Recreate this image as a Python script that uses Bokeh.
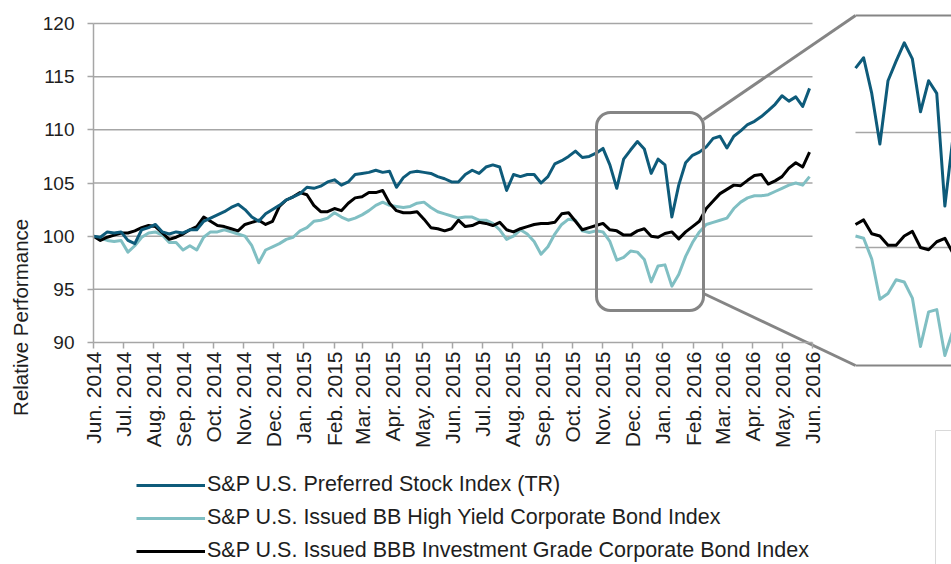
import numpy as np
import pandas as pd
from math import pi
from bokeh.plotting import figure
from bokeh.models import (Range1d, FixedTicker, LinearAxis, Legend, LegendItem,
                          BoxAnnotation, ColumnDataSource, Label)
from bokeh.embed import file_html
from bokeh.resources import INLINE

# ---------------- data (weekly readings, start 2014-06-01) ----------------
start_date = "2014-06-01"
series_names = ["S&P U.S. Preferred Stock Index (TR)",
                "S&P U.S. Issued BB High Yield Corporate Bond Index",
                "S&P U.S. Issued BBB Investment Grade Corporate Bond Index"]

preferred = [100.0, 99.9, 100.4, 100.3, 100.4, 99.6, 99.3, 100.6, 100.8, 101.1,
             100.4, 100.2, 100.4, 100.3, 100.6, 100.6, 101.4, 101.7, 102.0, 102.3,
             102.7, 103.0, 102.5, 101.8, 101.4, 102.1, 102.5, 102.9, 103.4, 103.7,
             104.0, 104.6, 104.5, 104.7, 105.1, 105.3, 104.8, 105.1, 105.8, 105.9,
             106.0, 106.2, 106.0, 106.1, 104.6, 105.5, 106.0, 106.1, 106.0, 105.9,
             105.6, 105.4, 105.1, 105.1, 105.8, 106.2, 105.9, 106.5, 106.7, 106.5,
             104.3, 105.8, 105.6, 105.8, 105.8, 105.0, 105.6, 106.8, 107.1, 107.5,
             108.0, 107.4, 107.5, 107.8, 108.25, 106.7, 104.5, 107.25, 108.1, 108.9,
             108.2, 105.9, 107.25, 106.7, 101.8, 104.8, 106.9, 107.6, 107.9, 108.4,
             109.2, 109.4, 108.3, 109.4, 109.9, 110.5, 110.8, 111.25, 111.8, 112.4,
             113.2, 112.7, 113.1, 112.2, 113.9]

bb_high_yield = [100.0, 99.8, 99.6, 99.5, 99.6, 98.5, 99.1, 99.9, 100.3, 100.4,
                 100.1, 99.4, 99.4, 98.7, 99.1, 98.7, 99.9, 100.4, 100.4, 100.6,
                 100.4, 100.2, 100.0, 99.1, 97.5, 98.7, 99.0, 99.3, 99.7, 99.9,
                 100.5, 100.8, 101.4, 101.5, 101.7, 102.2, 101.8, 101.5, 101.7, 102.0,
                 102.4, 102.9, 103.2, 102.9, 102.8, 102.7, 102.8, 103.1, 103.2, 102.7,
                 102.3, 102.1, 101.9, 101.7, 101.8, 101.8, 101.5, 101.5, 101.2, 100.6,
                 99.7, 100.0, 100.6, 100.2, 99.5, 98.3, 99.0, 100.2, 101.1, 101.6,
                 101.5, 100.5, 100.35, 100.5, 100.4, 99.5, 97.75, 98.0, 98.6, 98.5,
                 97.8, 95.7, 97.2, 97.3, 95.3, 96.4, 98.1, 99.4, 100.4, 101.1,
                 101.3, 101.5, 101.7, 102.6, 103.2, 103.6, 103.8, 103.8, 103.9, 104.2,
                 104.5, 104.8, 105.0, 104.8, 105.6]

bbb_investment = [100.0, 99.6, 99.9, 100.1, 100.3, 100.3, 100.5, 100.8, 101.0, 100.9,
                  100.3, 99.7, 99.9, 100.2, 100.6, 100.9, 101.8, 101.4, 101.0, 100.9,
                  100.7, 100.5, 101.1, 101.3, 101.5, 101.1, 101.4, 102.8, 103.4, 103.7,
                  104.1, 103.9, 102.9, 102.3, 102.3, 102.6, 102.4, 103.1, 103.6, 103.7,
                  104.1, 104.1, 104.3, 103.1, 102.4, 102.2, 102.2, 102.3, 101.6, 100.8,
                  100.7, 100.5, 100.7, 101.5, 100.9, 101.0, 101.3, 101.2, 101.0, 101.3,
                  100.6, 100.4, 100.7, 100.9, 101.1, 101.2, 101.2, 101.3, 102.1, 102.2,
                  101.4, 100.6, 100.8, 101.0, 101.2, 100.6, 100.5, 100.1, 100.1, 100.5,
                  100.7, 100.0, 99.9, 100.25, 100.4, 99.75, 100.4, 100.9, 101.4, 102.6,
                  103.3, 104.0, 104.4, 104.8, 104.75, 105.25, 105.7, 105.8, 104.9, 105.2,
                  105.6, 106.4, 106.9, 106.5, 107.9]

month_labels = ["Jun. 2014", "Jul. 2014", "Aug. 2014", "Sep. 2014", "Oct. 2014",
                "Nov. 2014", "Dec. 2014", "Jan. 2015", "Feb. 2015", "Mar. 2015",
                "Apr. 2015", "May. 2015", "Jun. 2015", "Jul. 2015", "Aug. 2015",
                "Sep. 2015", "Oct. 2015", "Nov. 2015", "Dec. 2015", "Jan. 2016",
                "Feb. 2016", "Mar. 2016", "Apr. 2016", "May. 2016", "Jun. 2016"]
y_ticks = [90, 95, 100, 105, 110, 115, 120]
y_title = "Relative  Performance"
inset_start_date = "2015-10-25"
inset_grid = [100, 105]

# ---------------- styles ----------------
C_PREF = "#0e5b7a"
C_BB = "#80bfc3"
C_BBB = "#000000"
C_GRID = "#a6a6a6"
C_FRAME = "#858585"
C_TEXT = "#1e1e1e"
FONT = "Liberation Sans"

# ---------------- layout (page pixels; figure sits at page 0,0) ----------------
W, H = 951, 564
X0_PX, X1_PX = 93, 812          # Jun 2014 .. Jun 2016
Y120_PX, Y90_PX = 23, 342
INSET_X0_PX, INSET_XSCALE = 855, 1.18
INSET_Y100_PX, INSET_PPU = 247, 23.0

def to_ms(d):
    return pd.Timestamp(d).value / 1e6

dates = pd.date_range(start_date, periods=len(preferred), freq="7D")
t = np.array([to_ms(d) for d in dates])
months = pd.date_range("2014-06-01", "2016-06-01", freq="MS")
month_ms = [to_ms(m) for m in months]
t0, t1 = month_ms[0], month_ms[-1]

ppms = (X1_PX - X0_PX) / (t1 - t0)
ppu = (Y90_PX - Y120_PX) / 30.0

def px_x(px):
    return t0 + (px - X0_PX) / ppms

def px_y(py):
    return 120 - (py - Y120_PX) / ppu

p = figure(frame_width=W, frame_height=H,
           x_range=Range1d(px_x(0), px_x(W)), y_range=Range1d(px_y(H), px_y(0)),
           x_axis_type=None, y_axis_type=None,
           output_backend="svg", toolbar_location=None,
           min_border_left=0, min_border_right=0,
           min_border_top=0, min_border_bottom=0)
p.outline_line_color = None
p.background_fill_color = "white"
p.border_fill_color = "white"

# inset ranges
t_in = to_ms(inset_start_date)
ippms = ppms * INSET_XSCALE
p.extra_x_ranges = {"inset_x": Range1d(t_in - INSET_X0_PX / ippms,
                                       t_in + (W - INSET_X0_PX) / ippms)}
p.extra_y_ranges = {"inset_y": Range1d(100 - (H - INSET_Y100_PX) / INSET_PPU,
                                       100 + INSET_Y100_PX / INSET_PPU)}

# main gridlines (only over the data period)
gl = [v for v in y_ticks if v != 90]
p.segment(x0=[t0] * len(gl), x1=[t1] * len(gl), y0=gl, y1=gl,
          line_color=C_GRID, line_width=1.5)

src = ColumnDataSource(dict(t=t, pref=preferred, bb=bb_high_yield, bbb=bbb_investment))
r_bb = p.line("t", "bb", source=src, line_color=C_BB, line_width=3, line_join="round")
r_bbb = p.line("t", "bbb", source=src, line_color=C_BBB, line_width=3, line_join="round")
r_pref = p.line("t", "pref", source=src, line_color=C_PREF, line_width=3, line_join="round")

# zoom box
box = BoxAnnotation(left=px_x(596), right=px_x(703), top=px_y(112), bottom=px_y(310),
                    fill_alpha=0, line_color=C_FRAME, line_alpha=1.0, line_width=3,
                    border_radius=14)
p.add_layout(box)

# connectors and inset border lines
p.segment(x0=[px_x(703), px_x(703)], y0=[px_y(119), px_y(293)],
          x1=[px_x(INSET_X0_PX)] * 2, y1=[px_y(15), px_y(365)],
          line_color=C_FRAME, line_width=3)
p.segment(x0=[px_x(INSET_X0_PX)] * 2, y0=[px_y(15), px_y(365)],
          x1=[px_x(W + 5)] * 2, y1=[px_y(15), px_y(365)],
          line_color=C_FRAME, line_width=2)

# inset content
mask = t >= t_in
isrc = ColumnDataSource(dict(t=t[mask], pref=np.array(preferred)[mask],
                             bb=np.array(bb_high_yield)[mask], bbb=np.array(bbb_investment)[mask]))
big = t_in + 1e12
p.segment(x0=[t_in] * len(inset_grid), x1=[big] * len(inset_grid), y0=inset_grid, y1=inset_grid,
          line_color=C_GRID, line_width=1.5, x_range_name="inset_x", y_range_name="inset_y")
for col, c in (("bb", C_BB), ("bbb", C_BBB), ("pref", C_PREF)):
    p.line("t", col, source=isrc, line_color=c, line_width=3, line_join="round",
           x_range_name="inset_x", y_range_name="inset_y")

# faint box edge at bottom right of the picture
p.segment(x0=[px_x(935), px_x(935)], y0=[px_y(430), px_y(430)],
          x1=[px_x(935), px_x(W + 5)], y1=[px_y(H + 5), px_y(430)],
          line_color="#d9d9d9", line_width=1)

# axes (placed at fixed data locations inside the full-size frame)
yaxis = LinearAxis(ticker=FixedTicker(ticks=y_ticks), bounds=(90, 120), fixed_location=t0)
yaxis.axis_line_color = C_GRID
yaxis.axis_line_width = 1.5
yaxis.major_tick_line_color = C_GRID
yaxis.major_tick_line_width = 1.5
yaxis.major_tick_out = 6
yaxis.major_tick_in = 0
yaxis.minor_tick_line_color = None
yaxis.major_label_standoff = 13
yaxis.major_label_text_font = FONT
yaxis.major_label_text_font_size = "19px"
yaxis.major_label_text_color = C_TEXT
p.add_layout(yaxis, "left")

xaxis = LinearAxis(ticker=FixedTicker(ticks=month_ms), bounds=(t0, t1), fixed_location=90)
xaxis.major_label_overrides = {float(m): lab for m, lab in zip(month_ms, month_labels)}
xaxis.major_label_orientation = pi / 2
xaxis.axis_line_color = C_GRID
xaxis.axis_line_width = 1.5
xaxis.major_tick_line_color = C_GRID
xaxis.major_tick_line_width = 1.5
xaxis.major_tick_out = 6
xaxis.major_tick_in = 0
xaxis.minor_tick_line_color = None
xaxis.major_label_standoff = 3
xaxis.major_label_text_font = FONT
xaxis.major_label_text_font_size = "21px"
xaxis.major_label_text_color = C_TEXT
p.add_layout(xaxis, "below")

# y title
p.add_layout(Label(x=px_x(20), y=px_y(314), text=y_title, angle=pi / 2,
                   text_align="center", text_baseline="middle",
                   text_font=FONT, text_font_size="20.5px", text_color=C_TEXT))

legend = Legend(items=[LegendItem(label=series_names[0], renderers=[r_pref]),
                       LegendItem(label=series_names[1], renderers=[r_bb]),
                       LegendItem(label=series_names[2], renderers=[r_bbb])],
                location=(136, 1), orientation="vertical",
                border_line_color=None, background_fill_alpha=0,
                padding=0, spacing=8, margin=0,
                glyph_width=69, glyph_height=24, label_height=24, label_standoff=2,
                label_text_font=FONT, label_text_font_size="21.5px",
                label_text_color=C_TEXT)
p.add_layout(legend, "center")

open("out.html", "w").write(file_html(p, INLINE))
